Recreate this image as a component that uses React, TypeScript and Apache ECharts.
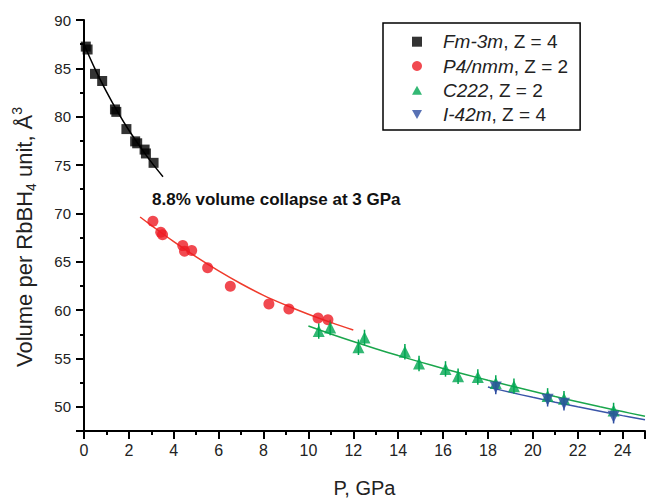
import React, { useEffect, useRef } from 'react';
import * as echarts from 'echarts';

const FONT = '"Liberation Sans", Arial, Helvetica, sans-serif';

// Legend entries
const phaseNames = ['Fm-3m', 'P4/nmm', 'C222', 'I-42m'];
const phaseZ = [4, 2, 2, 4];
const seriesNames = phaseNames.map((p, i) => `${p}, Z = ${phaseZ[i]}`);

// Fm-3m (black squares)
const fmP = [0.08, 0.16, 0.49, 0.81, 1.38, 1.44, 1.89, 2.28, 2.37, 2.7, 2.76, 3.1];
const fmV = [87.25, 86.95, 84.43, 83.69, 80.75, 80.5, 78.72, 77.45, 77.25, 76.6, 76.2, 75.23];
const fmFitP = [0, 0.5, 1, 1.5, 2, 2.5, 3, 3.52];
const fmFitV = [87.5, 84.9, 82.6, 80.5, 78.6, 76.9, 75.3, 73.8];

// P4/nmm (red circles)
const p4P = [3.07, 3.42, 3.5, 4.4, 4.48, 4.8, 5.51, 6.52, 8.24, 9.13, 10.43, 10.87];
const p4V = [69.19, 68.05, 67.8, 66.67, 66.1, 66.17, 64.39, 62.47, 60.63, 60.12, 59.18, 59.01];
const p4FitP = [2.5, 3, 4, 5, 6, 7, 8, 9, 10, 11, 12];
const p4FitV = [69.63, 68.76, 67.08, 65.51, 64.06, 62.73, 61.53, 60.51, 59.58, 58.73, 57.95];

// C222 (green up-triangles)
const c222P = [10.46, 10.97, 12.23, 12.5, 14.3, 14.93, 16.11, 16.67, 17.55, 18.35, 19.16, 20.66, 21.39, 23.6];
const c222V = [57.84, 58.21, 56.16, 57.17, 55.69, 54.49, 53.92, 53.15, 53.08, 52.47, 52.14, 51.13, 50.83, 49.62];
const c222E = [0.8, 0.8, 0.8, 0.8, 0.8, 0.8, 0.8, 0.8, 0.8, 0.8, 0.8, 0.8, 0.8, 0.8];
const c222FitP = [10, 11, 12, 13, 14, 15, 16, 17, 18, 19, 20, 21, 22, 23, 24, 25];
const c222FitV = [58.35, 57.53, 56.75, 56.01, 55.3, 54.62, 53.97, 53.35, 52.75, 52.17, 51.61, 51.06, 50.53, 50.01, 49.51, 49.02];

// I-42m (blue down-triangles)
const i42P = [18.35, 20.66, 21.39, 23.6];
const i42V = [52.01, 50.73, 50.33, 48.98];
const i42E = [0.7, 0.7, 0.7, 0.7];
const i42FitP = [18, 19, 20, 21, 22, 23, 24, 25];
const i42FitV = [52.05, 51.5, 50.98, 50.48, 50.0, 49.54, 49.09, 48.66];

const COLORS = {
  black: '#000000',
  red: '#ed1c24',
  redLine: '#ef3b2c',
  green: '#00a651',
  greenLine: '#1aa64c',
  blue: '#2e4ea1',
  blueLine: '#3a55a8',
};

const legendIcons = [
  'path://M0,0 L8,0 L8,8 L0,8 Z',
  'circle',
  'path://M5,0 L10,9 L0,9 Z',
  'path://M0,0 L10,0 L5,9 Z',
];

const pairs = (xs: number[], ys: number[]) => xs.map((x, i) => [x, ys[i]]);

const errSeries = (name: string, xs: number[], ys: number[], es: number[], color: string) => ({
  type: 'custom',
  name,
  silent: true,
  z: 3,
  renderItem: (_params: any, api: any) => {
    const x = api.value(0);
    const p1 = api.coord([x, api.value(1)]);
    const p2 = api.coord([x, api.value(2)]);
    return {
      type: 'line',
      shape: { x1: p1[0], y1: p1[1], x2: p2[0], y2: p2[1] },
      style: { stroke: color, lineWidth: 1.5 },
    };
  },
  encode: { x: 0, y: [1, 2] },
  data: xs.map((x, i) => [x, ys[i] - es[i], ys[i] + es[i]]),
});

const fitSeries = (name: string, xs: number[], ys: number[], color: string) => ({
  type: 'line',
  name,
  data: pairs(xs, ys),
  showSymbol: false,
  smooth: 0.4,
  silent: true,
  z: 2,
  lineStyle: { color, width: 1.5 },
});

export default function App() {
  const ref = useRef<HTMLDivElement>(null);

  useEffect(() => {
    const chart = echarts.init(ref.current!, null, { renderer: 'svg' });
    const axisLine = { show: true, lineStyle: { color: '#000', width: 2 } };

    const option: any = {
      animation: false,
      backgroundColor: '#fff',
      textStyle: { fontFamily: FONT },
      grid: { left: 84, right: 0, top: 20, bottom: 61, containLabel: false },
      xAxis: [
        {
          type: 'value',
          min: 0,
          max: 25,
          interval: 2,
          position: 'bottom',
          axisLine,
          axisTick: { show: true, length: 8, lineStyle: { color: '#000', width: 2 } },
          axisLabel: {
            fontSize: 16,
            color: '#222',
            margin: 11,
            fontFamily: FONT,
            formatter: (v: number) => (v % 2 === 0 ? String(v) : ''),
          },
          splitLine: { show: false },
          name: 'P, GPa',
          nameLocation: 'middle',
          nameGap: 47,
          nameTextStyle: { fontSize: 20, color: '#222', fontFamily: FONT },
        },
        {
          type: 'value',
          min: 0,
          max: 25,
          interval: 1,
          position: 'bottom',
          axisLine: { show: false },
          axisTick: { show: true, length: 4, lineStyle: { color: '#000', width: 2 } },
          axisLabel: { show: false },
          splitLine: { show: false },
        },
      ],
      yAxis: [
        {
          type: 'value',
          min: 47.5,
          max: 90,
          minInterval: 5,
          maxInterval: 5,
          position: 'left',
          axisLine,
          axisTick: { show: true, length: 8, lineStyle: { color: '#000', width: 2 } },
          axisLabel: {
            fontSize: 15,
            color: '#222',
            margin: 13,
            fontFamily: FONT,
            formatter: (v: number) => (v % 5 === 0 ? String(v) : ''),
          },
          splitLine: { show: false },
        },
        {
          type: 'value',
          min: 47.5,
          max: 90,
          interval: 2.5,
          position: 'left',
          axisLine: { show: false },
          axisTick: { show: true, length: 4, lineStyle: { color: '#000', width: 2 } },
          axisLabel: { show: false },
          splitLine: { show: false },
        },
      ],
      legend: {
        orient: 'vertical',
        left: 383,
        top: 23,
        padding: [8.7, 12, 5.3, 29],
        itemWidth: 10,
        itemHeight: 10,
        itemGap: 4.3,
        borderColor: '#000',
        borderWidth: 1.5,
        backgroundColor: '#fff',
        data: seriesNames.map((name, i) => ({ name, icon: legendIcons[i] })),
        formatter: (name: string) => {
          const idx = name.indexOf(', ');
          return `{i|${name.slice(0, idx)}}{n|${name.slice(idx)}}`;
        },
        textStyle: {
          fontSize: 19,
          lineHeight: 20,
          color: '#222',
          fontFamily: FONT,
          rich: {
            i: {
              fontSize: 19,
              lineHeight: 20,
              fontStyle: 'italic',
              color: '#222',
              fontFamily: FONT,
              padding: [0, 0, 0, 16],
            },
            n: { fontSize: 19, lineHeight: 20, color: '#222', fontFamily: FONT },
          },
        },
      },
      graphic: [
        {
          type: 'text',
          x: 24,
          y: 237,
          rotation: Math.PI / 2,
          silent: true,
          style: {
            text: '{a|Volume per RbBH}{s|4}{a| unit, Å}{p|3}',
            align: 'center',
            verticalAlign: 'middle',
            rich: {
              a: { fontSize: 22, lineHeight: 28, fill: '#222', fontFamily: FONT },
              s: { fontSize: 14, lineHeight: 14, verticalAlign: 'bottom', fill: '#222', fontFamily: FONT },
              p: { fontSize: 14, lineHeight: 14, verticalAlign: 'top', fill: '#222', fontFamily: FONT },
            },
          },
        },
        {
          type: 'text',
          x: 152,
          y: 199,
          silent: true,
          style: {
            text: '8.8% volume collapse at 3 GPa',
            fontSize: 17,
            fontWeight: 'bold',
            fontFamily: FONT,
            fill: '#111',
            verticalAlign: 'middle',
          },
        },
      ],
      series: [
        fitSeries('Fm-3m fit', fmFitP, fmFitV, COLORS.black),
        fitSeries('P4/nmm fit', p4FitP, p4FitV, COLORS.redLine),
        fitSeries('C222 fit', c222FitP, c222FitV, COLORS.greenLine),
        fitSeries('I-42m fit', i42FitP, i42FitV, COLORS.blueLine),
        errSeries('C222 err', c222P, c222V, c222E, COLORS.green),
        errSeries('I-42m err', i42P, i42V, i42E, COLORS.blue),
        {
          type: 'scatter',
          name: seriesNames[0],
          data: pairs(fmP, fmV),
          symbol: 'rect',
          symbolSize: 10,
          itemStyle: { color: COLORS.black },
          z: 4,
        },
        {
          type: 'scatter',
          name: seriesNames[1],
          data: pairs(p4P, p4V),
          symbol: 'circle',
          symbolSize: 11,
          itemStyle: { color: COLORS.red },
          z: 4,
        },
        {
          type: 'scatter',
          name: seriesNames[2],
          data: pairs(c222P, c222V),
          symbol: 'triangle',
          symbolSize: 12,
          itemStyle: { color: COLORS.green },
          z: 4,
        },
        {
          type: 'scatter',
          name: seriesNames[3],
          data: pairs(i42P, i42V),
          symbol: 'triangle',
          symbolRotate: 180,
          symbolSize: 12,
          itemStyle: { color: COLORS.blue },
          z: 4,
        },
      ],
    };

    chart.setOption(option);
    return () => chart.dispose();
  }, []);

  return (
    <div
      ref={ref}
      style={{ position: 'fixed', left: 0, top: 0, width: 648, height: 503, background: '#fff' }}
    />
  );
}
